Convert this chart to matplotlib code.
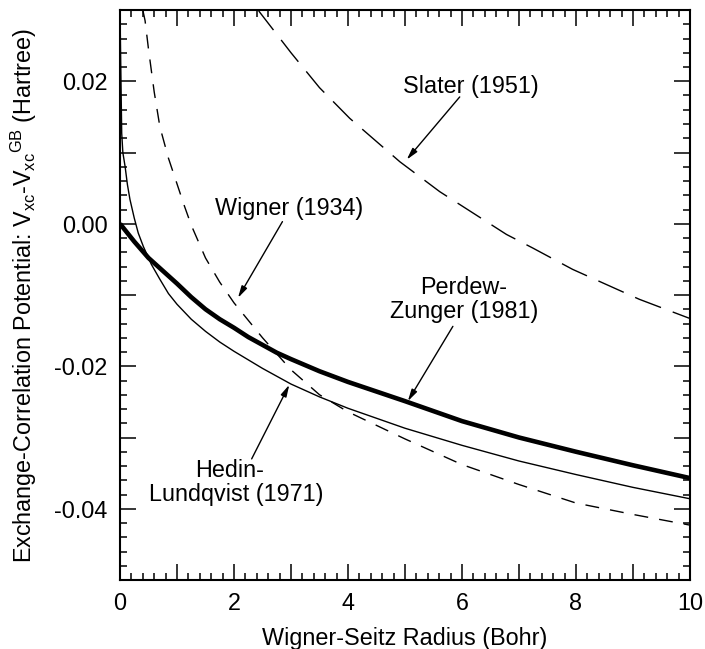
import numpy as np
import matplotlib
matplotlib.use("Agg")
import matplotlib.pyplot as plt
from matplotlib.ticker import MultipleLocator, FuncFormatter

plt.rcParams['font.family'] = ['Liberation Sans', 'DejaVu Sans']
plt.rcParams['mathtext.fontset'] = 'custom'
plt.rcParams['mathtext.rm'] = 'Liberation Sans'
plt.rcParams['axes.unicode_minus'] = False

# values (rs in Bohr, potential difference in Hartree)
rs_pz = [0.0, 0.25, 0.5, 0.75, 1.0, 1.25, 1.5, 1.75, 2.0, 2.25, 2.5, 2.75, 3.0,
         3.5, 4.0, 5.0, 6.0, 7.0, 8.0, 9.0, 10.0]
v_pz = [0.0, -0.0025, -0.0048, -0.0066, -0.0084, -0.0103, -0.0120, -0.0134,
        -0.0146, -0.0159, -0.0170, -0.0181, -0.0190, -0.0207, -0.0222, -0.0249,
        -0.0277, -0.0300, -0.0320, -0.0339, -0.0357]

rs_hl = [0.0, 0.01, 0.03, 0.05, 0.09, 0.13, 0.175, 0.25, 0.32, 0.41, 0.55, 0.7,
         0.85, 1.0, 1.25, 1.5, 1.75, 2.0, 2.5, 3.0, 3.5, 4.0, 5.0, 6.0, 7.0, 8.0,
         9.0, 10.0]
v_hl = [0.030, 0.024, 0.0127, 0.0100, 0.0080, 0.0055, 0.0034, 0.0008, -0.0013,
        -0.0032, -0.0057, -0.0078, -0.0098, -0.0113, -0.0134, -0.0151, -0.0166,
        -0.0179, -0.0203, -0.0225, -0.0243, -0.0259, -0.0287, -0.0311, -0.0333,
        -0.0352, -0.0370, -0.0386]

rs_wig = [0.40, 0.44, 0.5, 0.6, 0.7, 0.85, 1.0, 1.125, 1.25, 1.5, 1.75, 2.0, 2.5,
          3.0, 3.5, 4.0, 5.0, 6.0, 7.0, 8.0, 9.0, 10.0]
v_wig = [0.0300, 0.0285, 0.0245, 0.0185, 0.0136, 0.0092, 0.0056, 0.0026, -0.0002,
         -0.0048, -0.0082, -0.0111, -0.0160, -0.0205, -0.0240, -0.0264, -0.0302,
         -0.0338, -0.0366, -0.0392, -0.0408, -0.0423]

rs_sl = [2.4, 2.45, 3.0, 3.5, 4.03, 4.91, 5.61, 6.78, 7.24, 7.94, 9.11, 9.90, 10.0]
v_sl = [0.0303, 0.0297, 0.0240, 0.0191, 0.0148, 0.0087, 0.0045, -0.0015, -0.0034,
        -0.0064, -0.0106, -0.0130, -0.0133]

fs = 16.8
fig = plt.figure(figsize=(7.05, 6.49), dpi=100)
ax = fig.add_axes([120 / 705, 1 - 580 / 649, 570 / 705, 570 / 649])

ax.plot(rs_sl, v_sl, color='black', lw=1.0, dashes=(20, 9))
ax.plot(rs_wig, v_wig, color='black', lw=1.0, dashes=(10, 8))
ax.plot(rs_hl, v_hl, color='black', lw=1.0)
ax.plot(rs_pz, v_pz, color='black', lw=3.3, solid_capstyle='butt')

ax.set_xlim(0, 10)
ax.set_ylim(-0.05, 0.03)

ax.xaxis.set_major_locator(MultipleLocator(1))
ax.xaxis.set_minor_locator(MultipleLocator(0.2))
ax.yaxis.set_major_locator(MultipleLocator(0.01))
ax.yaxis.set_minor_locator(MultipleLocator(0.002))
ax.xaxis.set_major_formatter(FuncFormatter(
    lambda v, p: '%d' % round(v) if round(v) % 2 == 0 else ''))
ax.yaxis.set_major_formatter(FuncFormatter(
    lambda v, p: '%.2f' % (round(v * 100) / 100 + 0.0) if round(v * 100) % 2 == 0 else ''))

ax.tick_params(which='both', direction='in', top=True, right=True,
               labelsize=fs, width=1.1)
ax.tick_params(axis='x', which='major', pad=9)
ax.tick_params(axis='y', which='major', pad=9)
ax.tick_params(which='minor', length=5)
for s in ax.spines.values():
    s.set_linewidth(1.5)

# long ticks at labelled values, medium ones in between
for t in ax.xaxis.get_major_ticks():
    v = t.get_loc()
    n = 11.5 if round(v) % 2 == 0 else 8.5
    t.tick1line.set_markersize(n)
    t.tick2line.set_markersize(n)
for t in ax.yaxis.get_major_ticks():
    v = t.get_loc()
    n = 11.5 if round(v * 100) % 2 == 0 else 8.5
    t.tick1line.set_markersize(n)
    t.tick2line.set_markersize(n)

ax.set_xlabel('Wigner-Seitz Radius (Bohr)', fontsize=fs, labelpad=8)
ax.set_ylabel(r'Exchange-Correlation Potential: V$_{\mathrm{xc}}$-V$_{\mathrm{xc}}$$^{\mathrm{GB}}$ (Hartree)',
              fontsize=fs)
ax.yaxis.set_label_coords(-0.142, 0.5)

arrow = dict(arrowstyle='-|>,head_length=0.7,head_width=0.18', color='black',
             lw=1.0, shrinkA=0, shrinkB=0)

ax.text(6.15, 0.0192, 'Slater (1951)', fontsize=fs, ha='center', va='center')
ax.annotate('', xy=(5.03, 0.0090), xytext=(5.96, 0.0178), arrowprops=arrow)

ax.text(2.96, 0.0022, 'Wigner (1934)', fontsize=fs, ha='center', va='center')
ax.annotate('', xy=(2.07, -0.0104), xytext=(2.85, 0.0003), arrowprops=arrow)

ax.text(6.03, -0.0090, 'Perdew-', fontsize=fs, ha='center', va='center')
ax.text(6.03, -0.0123, 'Zunger (1981)', fontsize=fs, ha='center', va='center')
ax.annotate('', xy=(5.05, -0.0249), xytext=(5.84, -0.0144), arrowprops=arrow)

ax.text(1.93, -0.0346, 'Hedin-', fontsize=fs, ha='center', va='center')
ax.text(2.04, -0.0380, 'Lundqvist (1971)', fontsize=fs, ha='center', va='center')
ax.annotate('', xy=(2.97, -0.0226), xytext=(2.31, -0.0330), arrowprops=arrow)

fig.savefig('out.png', dpi=100)
